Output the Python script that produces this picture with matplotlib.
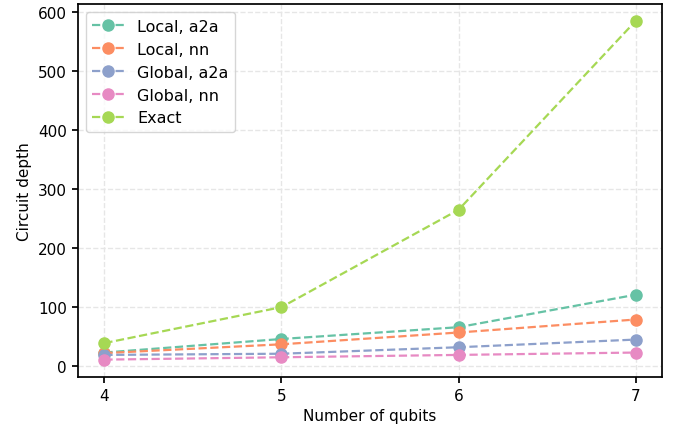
import matplotlib
matplotlib.use('Agg')
import matplotlib.pyplot as plt

qubits = [4, 5, 6, 7]
local_a2a = [23, 46, 66, 121]
local_nn = [22, 37, 57, 79]
global_a2a = [19, 21, 32, 45]
global_nn = [11, 15, 19, 23]
exact = [39, 100, 265, 585]

labels = ['Local, a2a', 'Local, nn', 'Global, a2a', 'Global, nn', 'Exact']
colors = ['#66c2a5', '#fc8d62', '#8da0cb', '#e78ac3', '#a6d854']
series = [local_a2a, local_nn, global_a2a, global_nn, exact]

plt.rcParams['font.size'] = 11
plt.rcParams['axes.linewidth'] = 1.25

fig, ax = plt.subplots(figsize=(6.77, 4.31), dpi=100)
for ys, lab, c in zip(series, labels, colors):
    ax.plot(qubits, ys, '--o', color=c, label=lab, markersize=8, linewidth=1.6)

ax.set_xticks(qubits)
ax.set_xlabel('Number of qubits')
ax.set_ylabel('Circuit depth')
ax.grid(True, linestyle='--', color='#e6e6e6', linewidth=1)
ax.tick_params(width=1.25, length=4.5)
ax.legend(loc='upper left', fontsize=11.5)
fig.subplots_adjust(left=0.115, right=0.978, top=0.988, bottom=0.124)
fig.savefig('out.png')
